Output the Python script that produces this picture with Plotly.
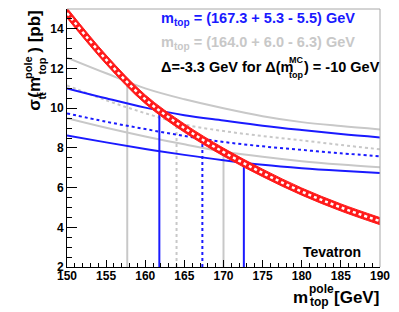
import numpy as np
import plotly.graph_objects as go

# ---------------- data ----------------
mass = [150, 155, 160, 165, 170, 175, 180, 185, 190]
sigma_theory = [14.8, 12.45, 10.45, 9.0, 7.79, 6.74, 5.8, 5.0, 4.31]
sigma_theory_err = [0.25, 0.23, 0.22, 0.21, 0.2, 0.19, 0.18, 0.18, 0.18]

blue_up = [11.0, 10.5, 10.03, 9.65, 9.38, 9.12, 8.9, 8.7, 8.53]
blue_mid = [9.74, 9.32, 8.95, 8.6, 8.3, 8.08, 7.9, 7.73, 7.58]
blue_lo = [8.63, 8.28, 7.95, 7.65, 7.38, 7.15, 6.98, 6.85, 6.74]

gray_up = [12.55, 11.76, 11.0, 10.45, 10.0, 9.6, 9.3, 9.1, 8.93]
gray_mid = [11.15, 10.4, 9.75, 9.18, 8.85, 8.6, 8.38, 8.15, 7.93]
gray_lo = [9.5, 9.02, 8.58, 8.18, 7.82, 7.55, 7.33, 7.16, 7.02]

blue_mtop = [161.8, 167.3, 172.6]   # 167.3 +5.3 -5.5
gray_mtop = [157.7, 164.0, 170.0]   # 164.0 +6.0 -6.3

x_ticks = [150, 155, 160, 165, 170, 175, 180, 185, 190]
y_ticks = [2, 4, 6, 8, 10, 12, 14]

BLUE = "#1a1aff"
GRAY = "#c8c8c8"
RED = "#ff1a1a"
FONT = "Liberation Sans"

fig = go.Figure()

th = np.array(sigma_theory)
er = np.array(sigma_theory_err)

def red_at(m):
    return float(np.exp(np.interp(m, mass, np.log(th))))

# gray curves
for ys, dash in [(gray_up, "solid"), (gray_mid, "dot"), (gray_lo, "solid")]:
    fig.add_trace(go.Scatter(x=mass, y=ys, mode="lines", line=dict(color=GRAY, width=2, dash=dash, shape="spline")))
for m, dash in zip(gray_mtop, ["solid", "dot", "solid"]):
    fig.add_trace(go.Scatter(x=[m, m], y=[2, red_at(m)], mode="lines", line=dict(color=GRAY, width=2, dash=dash)))

# blue curves
for ys, dash in [(blue_up, "solid"), (blue_mid, "dot"), (blue_lo, "solid")]:
    fig.add_trace(go.Scatter(x=mass, y=ys, mode="lines", line=dict(color=BLUE, width=2, dash=dash, shape="spline")))
for m, dash in zip(blue_mtop, ["solid", "dot", "solid"]):
    fig.add_trace(go.Scatter(x=[m, m], y=[2, red_at(m)], mode="lines", line=dict(color=BLUE, width=2, dash=dash)))

# theory band (on top)
fig.add_trace(go.Scatter(x=mass, y=th - er, mode="lines", line=dict(color=RED, width=1, shape="spline"),
                         hoverinfo="skip"))
fig.add_trace(go.Scatter(x=mass, y=th + er, mode="lines", line=dict(color=RED, width=1, shape="spline"),
                         fill="tonexty", fillcolor=RED, hoverinfo="skip"))
fig.add_trace(go.Scatter(x=mass, y=th, mode="lines", line=dict(color="white", width=2.5, dash="dot", shape="spline"),
                         hoverinfo="skip"))

# ---------------- layout ----------------
W, H = 399, 312
L_REF, R_REF, T_REF, B_REF = 67, 387, 9, 267

def px(x):
    return (x - L_REF) / (R_REF - L_REF)

def py(y):
    return (B_REF - y) / (B_REF - T_REF)

ann = []

def text(t, x, y, size, color="black", xa="left", ya="middle", angle=0, bold=True):
    ann.append(dict(text=t, x=px(x), y=py(y), xref="paper", yref="paper", xanchor=xa, yanchor=ya,
                    showarrow=False, textangle=angle, borderpad=0,
                    font=dict(family=FONT, size=size, color=color, weight="bold" if bold else "normal")))

text("m<sub>top</sub> = (167.3 + 5.3 - 5.5) GeV", 162, 19, 14.5, BLUE)
text("m<sub>top</sub> = (164.0 + 6.0 - 6.3) GeV", 162, 43, 14.5, GRAY)
text("Δ=-3.3 GeV for Δ(m", 162, 67, 14.5)
text("MC", 293, 60, 9)
text("top", 293, 75, 9)
text(") = -10 GeV", 308, 67, 14.5)
text("Tevatron", 307, 252, 14)

# x title
text("m", 297, 297, 17)
text("pole", 313, 289, 12)
text("top", 314, 302, 12)
text("[GeV]", 387, 297, 17, xa="right")

# y title (rotated)
text("σ", 33, 105, 17, xa="center", angle=-90)
text("tt\u0304", 41, 96, 11, xa="center", angle=-90)
text("(m", 33, 87, 17, xa="center", angle=-90)
text("pole", 27, 67, 11, xa="center", angle=-90)
text("top", 41, 66, 11, xa="center", angle=-90)
text(") [pb]", 33, 32, 17, xa="center", angle=-90)

fig.update_layout(
    width=W, height=H,
    margin=dict(l=L_REF, r=W - R_REF, t=T_REF, b=H - B_REF),
    paper_bgcolor="white", plot_bgcolor="white",
    showlegend=False,
    annotations=ann,
    xaxis=dict(range=[150, 190], tickvals=x_ticks, ticks="inside", ticklen=7, tickwidth=1, tickcolor="black",
               minor=dict(ticks="inside", ticklen=4, dtick=1, tickcolor="black"),
               showline=True, linecolor="black", linewidth=1, showgrid=False, zeroline=False,
               ticklabelstandoff=-2,
               tickfont=dict(family=FONT, size=12, color="black", weight="bold")),
    yaxis=dict(range=[2, 15], tickvals=y_ticks, ticks="inside", ticklen=10, tickwidth=1, tickcolor="black",
               minor=dict(ticks="inside", ticklen=5, dtick=0.5, tickcolor="black"),
               showline=True, linecolor="black", linewidth=1, showgrid=False, zeroline=False,
               tickfont=dict(family=FONT, size=12, color="black", weight="bold")),
    shapes=[
        dict(type="line", xref="paper", yref="paper", x0=0, x1=1, y0=1, y1=1, line=dict(color="#a8a8a8", width=1)),
        dict(type="line", xref="paper", yref="paper", x0=1, x1=1, y0=0, y1=1, line=dict(color="#a8a8a8", width=1)),
    ],
)

# remove the browser's default 8px page margin so the figure fills the window exactly
fig.write_html("out.html",
               config=dict(displayModeBar=False),
               post_script="document.body.style.margin='0';document.body.style.overflow='hidden';")
